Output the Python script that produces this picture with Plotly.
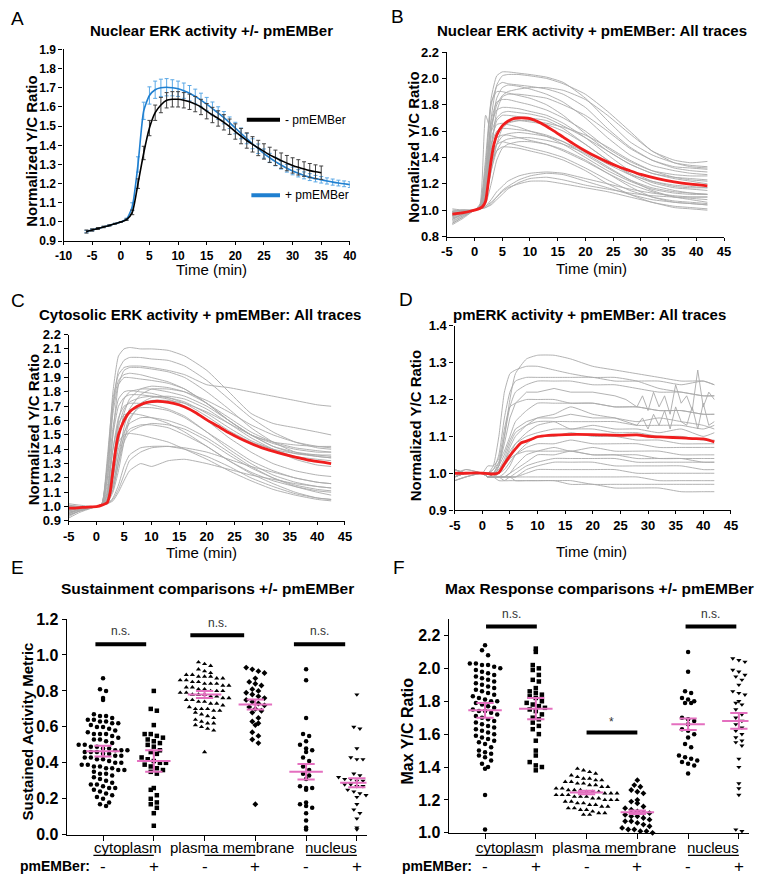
import plotly.graph_objects as go
import numpy as np

# ---------------- DATA ----------------
# Panel A: mean traces with SEM
a_time_minus = list(range(-6, 36))
a_minus = [0.950, 0.958, 0.966, 0.974, 0.982, 0.991, 1.000, 1.012, 1.050, 1.200, 1.360, 1.490,
           1.570, 1.610, 1.635, 1.640, 1.640, 1.635, 1.627, 1.615, 1.600, 1.578, 1.558, 1.540,
           1.520, 1.497, 1.472, 1.448, 1.425, 1.405, 1.386, 1.368, 1.350, 1.335, 1.320, 1.307,
           1.295, 1.285, 1.276, 1.268, 1.262, 1.257]
a_minus_err = [0.008, 0.006, 0.005, 0.004, 0.003, 0.002, 0.0, 0.004, 0.012, 0.025, 0.035, 0.04,
               0.04, 0.04, 0.04, 0.04, 0.04, 0.04, 0.04, 0.04, 0.04, 0.04, 0.04, 0.04,
               0.04, 0.04, 0.04, 0.04, 0.04, 0.04, 0.04, 0.04, 0.04, 0.04, 0.04, 0.04,
               0.04, 0.04, 0.038, 0.037, 0.036, 0.035]
a_time_plus = list(range(-6, 41))
a_plus = [0.950, 0.958, 0.966, 0.974, 0.982, 0.991, 1.000, 1.015, 1.080, 1.300, 1.580, 1.660,
          1.690, 1.700, 1.703, 1.700, 1.695, 1.685, 1.672, 1.655, 1.636, 1.615, 1.592, 1.568,
          1.544, 1.518, 1.490, 1.462, 1.435, 1.408, 1.382, 1.357, 1.335, 1.315, 1.297, 1.280,
          1.266, 1.254, 1.243, 1.234, 1.226, 1.220, 1.214, 1.208, 1.203, 1.199, 1.195]
a_plus_err = [0.006, 0.005, 0.004, 0.003, 0.003, 0.002, 0.0, 0.005, 0.02, 0.04, 0.045, 0.045,
              0.045, 0.045, 0.045, 0.042, 0.04, 0.04, 0.04, 0.038, 0.036, 0.035, 0.034, 0.033,
              0.032, 0.03, 0.03, 0.028, 0.027, 0.026, 0.025, 0.024, 0.023, 0.022, 0.021, 0.02,
              0.02, 0.019, 0.018, 0.018, 0.017, 0.017, 0.016, 0.016, 0.015, 0.015, 0.015]

# Panel B: nuclear ERK, all traces
b_time = [-4, -2, 0, 1, 2, 3, 4, 5, 6, 8, 10, 13, 16, 20, 24, 28, 32, 36, 39, 42]
b_traces = [
    [0.98, 0.99, 1.0, 1.02, 1.3, 1.85, 2.02, 2.05, 2.05, 2.04, 2.03, 2.01, 1.97, 1.85, 1.68, 1.52, 1.42, 1.36, 1.34, 1.33],
    [0.95, 0.98, 1.0, 1.02, 1.2, 1.7, 1.95, 2.02, 2.03, 2.03, 2.02, 2.0, 1.96, 1.88, 1.75, 1.6, 1.45, 1.38, 1.36, 1.37],
    [1.0, 1.0, 1.0, 1.03, 1.35, 1.8, 1.94, 1.97, 1.96, 1.95, 1.94, 1.92, 1.88, 1.78, 1.62, 1.48, 1.38, 1.32, 1.3, 1.29],
    [0.92, 0.96, 1.0, 1.02, 1.15, 1.6, 1.85, 1.93, 1.95, 1.94, 1.92, 1.88, 1.82, 1.7, 1.55, 1.42, 1.34, 1.3, 1.28, 1.27],
    [0.97, 0.99, 1.0, 1.04, 1.4, 1.82, 1.9, 1.9, 1.89, 1.87, 1.85, 1.8, 1.72, 1.58, 1.45, 1.35, 1.28, 1.25, 1.24, 1.23],
    [0.9, 0.95, 1.0, 1.02, 1.1, 1.45, 1.75, 1.86, 1.88, 1.88, 1.87, 1.85, 1.8, 1.72, 1.6, 1.47, 1.38, 1.33, 1.32, 1.31],
    [0.99, 1.0, 1.0, 1.02, 1.25, 1.68, 1.82, 1.84, 1.84, 1.82, 1.8, 1.76, 1.7, 1.6, 1.47, 1.37, 1.3, 1.27, 1.26, 1.26],
    [0.94, 0.97, 1.0, 1.03, 1.3, 1.65, 1.76, 1.78, 1.78, 1.77, 1.75, 1.72, 1.66, 1.55, 1.42, 1.3, 1.22, 1.18, 1.17, 1.17],
    [1.01, 1.0, 1.0, 1.05, 1.72, 1.6, 1.7, 1.74, 1.75, 1.74, 1.73, 1.7, 1.64, 1.55, 1.45, 1.35, 1.28, 1.24, 1.22, 1.2],
    [0.96, 0.98, 1.0, 1.02, 1.15, 1.5, 1.68, 1.72, 1.72, 1.71, 1.7, 1.68, 1.62, 1.5, 1.38, 1.28, 1.21, 1.17, 1.16, 1.15],
    [0.93, 0.97, 1.0, 1.02, 1.12, 1.4, 1.58, 1.65, 1.67, 1.68, 1.67, 1.65, 1.6, 1.5, 1.38, 1.27, 1.19, 1.15, 1.13, 1.12],
    [0.98, 0.99, 1.0, 1.03, 1.2, 1.5, 1.6, 1.62, 1.62, 1.61, 1.6, 1.57, 1.52, 1.42, 1.32, 1.23, 1.17, 1.14, 1.13, 1.12],
    [0.91, 0.96, 1.0, 1.02, 1.1, 1.35, 1.5, 1.56, 1.58, 1.59, 1.58, 1.56, 1.52, 1.44, 1.35, 1.27, 1.22, 1.19, 1.18, 1.17],
    [0.97, 0.99, 1.0, 1.03, 1.18, 1.45, 1.55, 1.57, 1.57, 1.55, 1.53, 1.5, 1.45, 1.37, 1.28, 1.2, 1.14, 1.1, 1.09, 1.08],
    [0.95, 0.98, 1.0, 1.02, 1.1, 1.3, 1.45, 1.52, 1.54, 1.55, 1.55, 1.53, 1.5, 1.43, 1.33, 1.23, 1.15, 1.1, 1.08, 1.06],
    [0.99, 1.0, 1.0, 1.02, 1.15, 1.4, 1.5, 1.52, 1.51, 1.49, 1.47, 1.44, 1.4, 1.32, 1.23, 1.15, 1.1, 1.07, 1.06, 1.05],
    [0.89, 0.94, 1.0, 1.01, 1.05, 1.2, 1.38, 1.47, 1.5, 1.52, 1.52, 1.5, 1.46, 1.38, 1.28, 1.18, 1.1, 1.06, 1.05, 1.04],
    [0.96, 0.98, 1.0, 1.02, 1.12, 1.35, 1.45, 1.48, 1.48, 1.47, 1.45, 1.42, 1.38, 1.3, 1.2, 1.12, 1.06, 1.03, 1.02, 1.01],
    [0.93, 0.97, 1.0, 1.01, 1.03, 1.08, 1.14, 1.18, 1.22, 1.26, 1.28, 1.29, 1.28, 1.24, 1.2, 1.16, 1.13, 1.11, 1.1, 1.1],
    [0.98, 0.99, 1.0, 1.01, 1.02, 1.05, 1.1, 1.15, 1.18, 1.23, 1.26, 1.28, 1.27, 1.22, 1.17, 1.12, 1.08, 1.06, 1.05, 1.04],
    [0.9, 0.95, 1.0, 1.01, 1.02, 1.04, 1.08, 1.12, 1.16, 1.21, 1.24, 1.25, 1.23, 1.19, 1.16, 1.13, 1.11, 1.1, 1.1, 1.1],
    [0.97, 0.99, 1.0, 1.01, 1.03, 1.06, 1.1, 1.14, 1.17, 1.2, 1.22, 1.22, 1.2, 1.17, 1.14, 1.1, 1.06, 1.02, 1.01, 1.0],
    [0.99, 1.0, 1.0, 1.02, 1.1, 1.3, 1.5, 1.62, 1.66, 1.68, 1.68, 1.66, 1.63, 1.57, 1.48, 1.38, 1.3, 1.25, 1.23, 1.22],
    [0.94, 0.97, 1.0, 1.02, 1.2, 1.6, 1.8, 1.87, 1.9, 1.92, 1.93, 1.93, 1.91, 1.84, 1.72, 1.58, 1.45, 1.36, 1.33, 1.32],
    [0.96, 0.98, 1.0, 1.03, 1.25, 1.55, 1.65, 1.66, 1.65, 1.63, 1.6, 1.56, 1.5, 1.4, 1.3, 1.22, 1.16, 1.13, 1.12, 1.12],
]
b_mean_time = [-4, -3, -2, -1, 0, 1, 1.5, 2, 2.5, 3, 3.5, 4, 5, 6, 7, 8, 9, 10, 12, 14, 16, 18, 20,
               22, 24, 26, 28, 30, 33, 36, 39, 42]
b_mean = [0.97, 0.975, 0.982, 0.99, 1.0, 1.015, 1.03, 1.07, 1.22, 1.38, 1.5, 1.57, 1.64, 1.675,
          1.695, 1.70, 1.70, 1.695, 1.66, 1.61, 1.555, 1.50, 1.45, 1.405, 1.365, 1.33, 1.30,
          1.272, 1.24, 1.215, 1.197, 1.185]

# Panel C: cytosolic ERK, all traces
c_time = [-5, -3, 0, 1, 2, 3, 4, 5, 6, 8, 10, 13, 16, 20, 24, 28, 32, 36, 40, 42.5]
c_traces = [
    [0.97, 0.99, 1.0, 1.02, 1.3, 1.8, 2.05, 2.1, 2.11, 2.1, 2.1, 2.09, 2.05, 1.95, 1.8, 1.65, 1.58, 1.55, 1.52, 1.5],
    [0.95, 0.98, 1.0, 1.01, 1.2, 1.7, 1.95, 2.02, 2.04, 2.04, 2.03, 2.02, 1.98, 1.88, 1.75, 1.62, 1.52, 1.45, 1.41, 1.4],
    [1.02, 1.01, 1.0, 1.02, 1.35, 1.75, 1.92, 1.97, 1.98, 1.98, 1.97, 1.95, 1.92, 1.85, 1.83, 1.8, 1.77, 1.74, 1.71, 1.7],
    [0.94, 0.97, 1.0, 1.01, 1.1, 1.5, 1.85, 1.95, 1.97, 1.97, 1.96, 1.94, 1.9, 1.8, 1.68, 1.55, 1.45, 1.38, 1.35, 1.34],
    [0.98, 0.99, 1.0, 1.02, 1.25, 1.65, 1.85, 1.9, 1.9, 1.89, 1.88, 1.86, 1.82, 1.72, 1.6, 1.5, 1.42, 1.38, 1.36, 1.35],
    [0.96, 0.98, 1.0, 1.01, 1.05, 1.2, 1.45, 1.65, 1.75, 1.82, 1.84, 1.83, 1.8, 1.72, 1.62, 1.52, 1.45, 1.41, 1.39, 1.38],
    [1.01, 1.0, 1.0, 1.01, 1.05, 1.15, 1.35, 1.55, 1.68, 1.78, 1.82, 1.82, 1.8, 1.74, 1.66, 1.57, 1.5, 1.45, 1.42, 1.41],
    [0.93, 0.97, 1.0, 1.01, 1.08, 1.3, 1.6, 1.75, 1.8, 1.82, 1.82, 1.8, 1.77, 1.7, 1.6, 1.5, 1.42, 1.37, 1.35, 1.34],
    [0.97, 0.99, 1.0, 1.01, 1.03, 1.1, 1.25, 1.45, 1.6, 1.72, 1.76, 1.77, 1.75, 1.68, 1.58, 1.48, 1.4, 1.33, 1.29, 1.28],
    [0.99, 1.0, 1.0, 1.02, 1.15, 1.5, 1.7, 1.76, 1.78, 1.78, 1.77, 1.75, 1.7, 1.6, 1.48, 1.38, 1.3, 1.25, 1.22, 1.21],
    [0.95, 0.98, 1.0, 1.01, 1.04, 1.12, 1.3, 1.5, 1.62, 1.7, 1.74, 1.74, 1.72, 1.66, 1.58, 1.5, 1.44, 1.4, 1.38, 1.38],
    [1.0, 1.0, 1.0, 1.01, 1.1, 1.4, 1.62, 1.7, 1.72, 1.72, 1.71, 1.68, 1.63, 1.52, 1.4, 1.3, 1.22, 1.17, 1.14, 1.13],
    [0.94, 0.97, 1.0, 1.01, 1.06, 1.25, 1.5, 1.62, 1.67, 1.69, 1.69, 1.67, 1.62, 1.52, 1.42, 1.32, 1.25, 1.2, 1.17, 1.16],
    [0.98, 0.99, 1.0, 1.02, 1.12, 1.4, 1.58, 1.64, 1.65, 1.64, 1.62, 1.58, 1.52, 1.42, 1.32, 1.24, 1.18, 1.14, 1.11, 1.1],
    [0.96, 0.98, 1.0, 1.01, 1.05, 1.2, 1.4, 1.52, 1.58, 1.62, 1.62, 1.6, 1.56, 1.48, 1.38, 1.28, 1.2, 1.14, 1.1, 1.08],
    [0.92, 0.96, 1.0, 1.01, 1.04, 1.15, 1.35, 1.48, 1.54, 1.57, 1.57, 1.55, 1.5, 1.42, 1.32, 1.23, 1.16, 1.1, 1.06, 1.05],
    [1.01, 1.0, 1.0, 1.01, 1.08, 1.3, 1.45, 1.5, 1.51, 1.5, 1.48, 1.45, 1.4, 1.33, 1.25, 1.18, 1.12, 1.08, 1.05, 1.04],
    [0.97, 0.99, 1.0, 1.01, 1.02, 1.06, 1.15, 1.28, 1.36, 1.41, 1.42, 1.42, 1.4, 1.35, 1.28, 1.2, 1.14, 1.09, 1.06, 1.05],
    [0.95, 0.98, 1.0, 1.01, 1.02, 1.05, 1.12, 1.22, 1.32, 1.38, 1.41, 1.42, 1.41, 1.38, 1.33, 1.28, 1.24, 1.2, 1.17, 1.16],
    [0.99, 1.0, 1.0, 1.01, 1.02, 1.04, 1.1, 1.18, 1.25, 1.3, 1.28, 1.32, 1.33, 1.3, 1.26, 1.22, 1.19, 1.16, 1.14, 1.13],
    [0.96, 0.98, 1.0, 1.02, 1.2, 1.55, 1.75, 1.8, 1.81, 1.8, 1.79, 1.76, 1.72, 1.63, 1.53, 1.45, 1.4, 1.37, 1.36, 1.36],
    [0.98, 0.99, 1.0, 1.01, 1.06, 1.3, 1.55, 1.68, 1.73, 1.76, 1.77, 1.76, 1.73, 1.65, 1.55, 1.46, 1.4, 1.35, 1.33, 1.32],
    [0.94, 0.97, 1.0, 1.01, 1.03, 1.12, 1.3, 1.45, 1.52, 1.56, 1.58, 1.57, 1.54, 1.46, 1.36, 1.27, 1.2, 1.15, 1.12, 1.11],
    [1.0, 1.0, 1.0, 1.02, 1.3, 1.7, 1.88, 1.92, 1.93, 1.92, 1.9, 1.87, 1.82, 1.72, 1.6, 1.5, 1.45, 1.43, 1.42, 1.42],
]
c_mean_time = [-5, -4, -3, -2, -1, 0, 1, 2, 2.5, 3, 3.5, 4, 5, 6, 7, 8, 9, 10, 11, 12, 14, 16, 18,
               20, 22, 24, 26, 28, 30, 33, 36, 39, 42.5]
c_mean = [0.99, 0.99, 0.993, 0.995, 0.998, 1.0, 1.01, 1.03, 1.1, 1.25, 1.4, 1.5, 1.6, 1.66, 1.69,
          1.71, 1.725, 1.732, 1.735, 1.733, 1.72, 1.695, 1.655, 1.605, 1.56, 1.515, 1.475, 1.44,
          1.41, 1.375, 1.345, 1.32, 1.30]

# Panel D: pmERK, all traces
d_time = [-5, -3, 0, 1, 2, 3, 4, 5, 6, 8, 10, 13, 16, 20, 24, 28, 32, 36, 40, 42]
d_traces = [
    [1.0, 1.01, 1.0, 0.99, 0.99, 1.02, 1.1, 1.2, 1.27, 1.31, 1.32, 1.32, 1.31, 1.29, 1.28, 1.27, 1.26, 1.25, 1.25, 1.24],
    [0.99, 1.0, 1.0, 1.0, 1.02, 1.1, 1.22, 1.27, 1.28, 1.29, 1.29, 1.28, 1.27, 1.26, 1.26, 1.25, 1.23, 1.22, 1.21, 1.21],
    [1.01, 1.0, 1.0, 1.0, 1.01, 1.05, 1.15, 1.22, 1.25, 1.26, 1.26, 1.26, 1.26, 1.26, 1.25, 1.25, 1.25, 1.24, 1.25, 1.24],
    [0.98, 0.99, 1.0, 0.99, 1.0, 1.03, 1.1, 1.18, 1.22, 1.24, 1.25, 1.25, 1.25, 1.24, 1.24, 1.23, 1.22, 1.22, 1.21, 1.21],
    [0.99, 1.01, 1.0, 1.0, 1.01, 1.03, 1.06, 1.1, 1.14, 1.17, 1.19, 1.19, 1.19, 1.19, 1.18, 1.18, 1.17, 1.17, 1.16, 1.16],
    [1.0, 1.0, 1.0, 0.99, 0.99, 1.0, 1.03, 1.07, 1.1, 1.13, 1.15, 1.16, 1.18, 1.16, 1.15, 1.14, 1.15, 1.14, 1.13, 1.12],
    [0.99, 1.0, 1.0, 1.0, 0.99, 1.0, 1.02, 1.05, 1.08, 1.11, 1.13, 1.14, 1.14, 1.14, 1.14, 1.13, 1.13, 1.13, 1.12, 1.13],
    [1.0, 1.0, 1.0, 1.0, 1.0, 1.01, 1.03, 1.06, 1.08, 1.1, 1.11, 1.12, 1.12, 1.12, 1.11, 1.11, 1.1, 1.1, 1.09, 1.09],
    [0.98, 0.99, 1.0, 0.99, 0.99, 0.99, 1.0, 1.02, 1.05, 1.08, 1.1, 1.1, 1.11, 1.1, 1.1, 1.09, 1.09, 1.08, 1.08, 1.08],
    [1.01, 1.0, 1.0, 1.0, 1.0, 1.0, 1.01, 1.03, 1.05, 1.07, 1.08, 1.08, 1.09, 1.08, 1.08, 1.08, 1.07, 1.07, 1.07, 1.07],
    [1.0, 1.0, 1.0, 0.99, 0.99, 0.99, 0.99, 1.0, 1.02, 1.05, 1.06, 1.07, 1.06, 1.07, 1.06, 1.06, 1.06, 1.05, 1.05, 1.05],
    [0.99, 1.0, 1.0, 1.0, 0.99, 0.99, 0.99, 1.0, 1.01, 1.03, 1.05, 1.05, 1.06, 1.05, 1.05, 1.05, 1.04, 1.04, 1.04, 1.04],
    [1.0, 1.0, 1.0, 1.0, 0.99, 0.99, 0.99, 0.99, 1.0, 1.02, 1.03, 1.04, 1.04, 1.04, 1.04, 1.03, 1.03, 1.03, 1.03, 1.03],
    [0.98, 0.99, 1.0, 0.99, 0.99, 0.98, 0.98, 0.99, 0.99, 1.01, 1.02, 1.03, 1.03, 1.03, 1.02, 1.02, 1.02, 1.02, 1.01, 1.01],
    [1.01, 1.0, 1.0, 1.0, 0.99, 0.99, 0.99, 0.99, 0.99, 1.0, 1.01, 1.01, 1.01, 1.01, 1.01, 1.0, 1.0, 1.0, 1.0, 1.0],
    [1.0, 1.0, 1.0, 0.99, 0.99, 0.99, 0.99, 0.99, 0.99, 0.99, 0.99, 0.99, 0.99, 0.99, 0.99, 0.99, 0.98, 0.98, 0.98, 0.98],
    [0.99, 1.0, 1.0, 0.99, 0.99, 0.99, 0.98, 0.98, 0.98, 0.98, 0.98, 0.98, 0.98, 0.97, 0.97, 0.97, 0.97, 0.97, 0.97, 0.97],
    [1.0, 1.0, 1.0, 0.99, 0.99, 0.99, 0.99, 0.99, 0.98, 0.98, 0.98, 0.98, 0.97, 0.97, 0.96, 0.96, 0.96, 0.95, 0.95, 0.95],
    [1.01, 1.0, 1.0, 1.0, 1.0, 1.01, 1.04, 1.08, 1.11, 1.13, 1.14, 1.14, 1.12, 1.13, 1.12, 1.12, 1.11, 1.12, 1.1, 1.11],
    [0.99, 1.0, 1.0, 1.0, 1.0, 1.0, 1.02, 1.04, 1.05, 1.06, 1.06, 1.06, 1.06, 1.05, 1.05, 1.04, 1.04, 1.04, 1.03, 1.03],
    [1.0, 1.0, 1.0, 1.02, 1.02, 1.04, 1.12, 1.18, 1.19, 1.2, 1.2, 1.2, 1.19, 1.19, 1.18, 1.18, 1.17, 1.17, 1.16, 1.16],
]
# jagged traces in panel D (finer sampling, noisy in the second half)
d_noisy_time = [-5, -3, 0, 2, 3, 4, 5, 6, 8, 10, 13, 16, 20, 24, 26, 28, 29, 30, 31, 32, 33, 34, 35, 36,
                37, 38, 39, 40, 41, 42]
d_noisy_traces = [
    [1.0, 1.0, 1.0, 1.0, 1.02, 1.08, 1.15, 1.19, 1.22, 1.22, 1.23, 1.22, 1.22, 1.21, 1.2, 1.18, 1.21, 1.17,
     1.22, 1.18, 1.21, 1.16, 1.24, 1.19, 1.21, 1.17, 1.28, 1.18, 1.22, 1.2],
    [1.01, 1.0, 1.0, 1.0, 1.02, 1.05, 1.09, 1.12, 1.14, 1.15, 1.15, 1.16, 1.15, 1.15, 1.14, 1.13, 1.15, 1.12,
     1.16, 1.13, 1.17, 1.12, 1.18, 1.14, 1.13, 1.18, 1.12, 1.19, 1.13, 1.14],
]
d_mean_time = [-5, -3, -1, 0, 1, 2, 3, 4, 5, 6, 7, 8, 9, 10, 12, 15, 20, 25, 28, 30, 33, 36, 38, 40, 41, 42]
d_mean = [1.0, 1.0, 1.001, 1.0, 0.999, 0.998, 1.002, 1.025, 1.047, 1.066, 1.082, 1.087, 1.093,
          1.099, 1.103, 1.105, 1.105, 1.103, 1.104, 1.1, 1.098, 1.096, 1.094, 1.093, 1.09, 1.085]

# Panels E/F: groups (cytoplasm -, +, plasma membrane -, +, nucleus -, +)
group_pm = ["-", "+", "-", "+", "-", "+"]
compartments = ["cytoplasm", "plasma membrane", "nucleus"]

e_cyto_minus = [0.87, 0.81, 0.80, 0.76, 0.75, 0.67, 0.66, 0.66, 0.65, 0.64, 0.64, 0.63, 0.63, 0.62, 0.62,
                0.61, 0.60, 0.60, 0.59, 0.58, 0.57, 0.56, 0.56, 0.56, 0.55, 0.54, 0.53, 0.53, 0.52, 0.51,
                0.50, 0.50, 0.49, 0.49, 0.48, 0.48, 0.47, 0.47, 0.47, 0.46, 0.46, 0.46, 0.45, 0.45, 0.44,
                0.44, 0.43, 0.43, 0.42, 0.42, 0.41, 0.40, 0.40, 0.39, 0.39, 0.38, 0.38, 0.37, 0.37, 0.36,
                0.36, 0.35, 0.34, 0.34, 0.33, 0.32, 0.31, 0.30, 0.29, 0.28, 0.28, 0.27, 0.26, 0.26, 0.25,
                0.24, 0.23, 0.22, 0.21, 0.20, 0.18, 0.17, 0.16]
e_cyto_plus = [0.80, 0.70, 0.69, 0.61, 0.56, 0.56, 0.55, 0.54, 0.53, 0.52, 0.51, 0.50, 0.49, 0.47, 0.46,
               0.45, 0.43, 0.42, 0.41, 0.40, 0.40, 0.39, 0.38, 0.37, 0.36, 0.35, 0.34, 0.26, 0.25, 0.22,
               0.20, 0.18, 0.17, 0.15, 0.12, 0.05]
e_pm_minus = [0.96, 0.95, 0.94, 0.92, 0.91, 0.90, 0.89, 0.89, 0.88, 0.88, 0.88, 0.87, 0.87, 0.86, 0.86,
              0.85, 0.85, 0.84, 0.84, 0.84, 0.83, 0.83, 0.82, 0.82, 0.81, 0.81, 0.80, 0.80, 0.80, 0.79,
              0.79, 0.78, 0.78, 0.78, 0.77, 0.77, 0.76, 0.76, 0.75, 0.75, 0.74, 0.74, 0.73, 0.73, 0.72,
              0.71, 0.70, 0.70, 0.70, 0.69, 0.69, 0.68, 0.67, 0.66, 0.65, 0.64, 0.63, 0.62, 0.62, 0.61,
              0.60, 0.59, 0.58, 0.46]
e_pm_plus = [0.93, 0.92, 0.91, 0.90, 0.87, 0.85, 0.84, 0.83, 0.81, 0.80, 0.79, 0.78, 0.77, 0.76, 0.75,
             0.74, 0.73, 0.72, 0.71, 0.70, 0.69, 0.68, 0.65, 0.63, 0.62, 0.61, 0.57, 0.55, 0.53, 0.51, 0.17]
e_nuc_minus = [0.92, 0.86, 0.65, 0.56, 0.55, 0.52, 0.50, 0.48, 0.47, 0.46, 0.43, 0.41, 0.38, 0.36, 0.34,
               0.33, 0.31, 0.27, 0.26, 0.26, 0.25, 0.18, 0.17, 0.16, 0.15, 0.12, 0.08, 0.04, 0.03]
e_nuc_plus = [0.78, 0.60, 0.59, 0.48, 0.43, 0.42, 0.42, 0.34, 0.33, 0.32, 0.31, 0.31, 0.30, 0.30, 0.29,
              0.29, 0.28, 0.28, 0.27, 0.27, 0.26, 0.25, 0.24, 0.23, 0.22, 0.21, 0.17, 0.14, 0.12, 0.09,
              0.04, 0.03]
e_means = [0.465, 0.41, 0.78, 0.725, 0.35, 0.29]
e_sems = [0.03, 0.06, 0.02, 0.028, 0.043, 0.025]

f_cyto_minus = [2.14, 2.11, 2.08, 2.03, 2.03, 2.02, 2.02, 2.01, 2.0, 1.99, 1.98, 1.97, 1.96, 1.95, 1.94,
                1.93, 1.92, 1.91, 1.9, 1.89, 1.88, 1.87, 1.86, 1.85, 1.84, 1.83, 1.82, 1.81, 1.8, 1.8,
                1.79, 1.78, 1.77, 1.76, 1.75, 1.74, 1.74, 1.73, 1.72, 1.71, 1.7, 1.69, 1.68, 1.67, 1.66,
                1.65, 1.64, 1.63, 1.62, 1.61, 1.6, 1.59, 1.58, 1.57, 1.56, 1.55, 1.54, 1.52, 1.5, 1.49,
                1.48, 1.47, 1.46, 1.44, 1.42, 1.4, 1.39, 1.23, 1.02]
f_cyto_plus = [2.12, 2.1, 2.02, 2.0, 1.99, 1.96, 1.93, 1.92, 1.88, 1.86, 1.85, 1.84, 1.83, 1.82, 1.8,
               1.79, 1.78, 1.77, 1.76, 1.75, 1.74, 1.72, 1.7, 1.69, 1.67, 1.65, 1.63, 1.6, 1.56, 1.5,
               1.47, 1.43, 1.41, 1.4, 1.38]
f_pm_minus = [1.39, 1.38, 1.37, 1.36, 1.35, 1.34, 1.33, 1.33, 1.32, 1.32, 1.31, 1.31, 1.3, 1.3, 1.29,
              1.29, 1.28, 1.28, 1.27, 1.27, 1.26, 1.26, 1.26, 1.25, 1.25, 1.25, 1.24, 1.24, 1.24, 1.23,
              1.23, 1.23, 1.22, 1.22, 1.22, 1.21, 1.21, 1.2, 1.2, 1.2, 1.19, 1.19, 1.18, 1.18, 1.17,
              1.17, 1.16, 1.16, 1.15, 1.15, 1.14, 1.14, 1.13, 1.12, 1.12, 1.11, 1.11]
f_pm_plus = [1.32, 1.29, 1.28, 1.26, 1.25, 1.24, 1.2, 1.19, 1.18, 1.16, 1.15, 1.14, 1.13, 1.12, 1.12,
             1.11, 1.1, 1.1, 1.09, 1.08, 1.07, 1.07, 1.06, 1.05, 1.04, 1.03, 1.02, 1.02, 1.01, 1.01, 1.0]
f_nuc_minus = [2.1, 1.98, 1.86, 1.85, 1.82, 1.81, 1.8, 1.79, 1.79, 1.7, 1.69, 1.68, 1.66, 1.63, 1.62,
               1.6, 1.58, 1.54, 1.52, 1.47, 1.46, 1.45, 1.44, 1.43, 1.42, 1.41, 1.36]
f_nuc_plus = [2.06, 2.05, 2.04, 1.99, 1.98, 1.96, 1.95, 1.93, 1.9, 1.86, 1.85, 1.84, 1.8, 1.79, 1.78,
              1.75, 1.72, 1.7, 1.68, 1.66, 1.64, 1.62, 1.6, 1.58, 1.56, 1.55, 1.53, 1.45, 1.4, 1.3,
              1.27, 1.23, 1.02, 1.01]
f_means = [1.745, 1.755, 1.245, 1.125, 1.66, 1.68]
f_sems = [0.045, 0.065, 0.01, 0.01, 0.035, 0.048]

# ---------------- LAYOUT HELPERS ----------------
W, H = 780, 883
FONT = "Liberation Sans, Arial, sans-serif"


def PX(x):
    return x / W


def PY(y):
    return 1 - y / H


# panel plot areas in pixels: (left, right, top, bottom)
boxes = {
    "A": (55.7, 348, 42.3, 237.7),
    "B": (447, 730, 45, 233),
    "C": (61, 343, 333, 523),
    "D": (455, 737, 324, 512),
    "E": (59, 365, 623, 843),
    "F": (449, 755, 623, 841),
}
axis_ids = {"A": "", "B": "2", "C": "3", "D": "4", "E": "5", "F": "6"}

fig = go.Figure()
GRAY = "#a9a9a9"
RED = "#f01e1e"
PINK = "#e46fbf"


def ax(p):
    i = axis_ids[p]
    return "x" + i, "y" + i


# Panel A
xa, ya = ax("A")
fig.add_trace(go.Scatter(x=a_time_plus, y=a_plus, mode="lines", line=dict(color="#1f7fd0", width=1.6, shape="spline", smoothing=0.6),
                         error_y=dict(type="data", array=a_plus_err, color="#5aa8e6", thickness=1, width=2),
                         xaxis=xa, yaxis=ya, showlegend=False))
fig.add_trace(go.Scatter(x=a_time_minus, y=a_minus, mode="lines", line=dict(color="black", width=1.6, shape="spline", smoothing=0.6),
                         error_y=dict(type="data", array=a_minus_err, color="#404040", thickness=1, width=2),
                         xaxis=xa, yaxis=ya, showlegend=False))

# Panels B, C, D
for p, t, traces, mt, m in [("B", b_time, b_traces, b_mean_time, b_mean),
                             ("C", c_time, c_traces, c_mean_time, c_mean),
                             ("D", d_time, d_traces, d_mean_time, d_mean)]:
    xa, ya = ax(p)
    for tr in traces:
        fig.add_trace(go.Scatter(x=t, y=tr, mode="lines", line=dict(color=GRAY, width=0.9, shape="spline", smoothing=0.5),
                                 xaxis=xa, yaxis=ya, showlegend=False, hoverinfo="skip"))
    if p == "D":
        for tr in d_noisy_traces:
            fig.add_trace(go.Scatter(x=d_noisy_time, y=tr, mode="lines", line=dict(color=GRAY, width=0.9),
                                     xaxis=xa, yaxis=ya, showlegend=False, hoverinfo="skip"))
    fig.add_trace(go.Scatter(x=mt, y=m, mode="lines", line=dict(color=RED, width=2.8, shape="spline", smoothing=0.6),
                             xaxis=xa, yaxis=ya, showlegend=False))


# beeswarm helper
def swarm(vals, center, binh, dx):
    v = np.array(sorted(vals, reverse=True), dtype=float)
    bins = np.floor(v / binh + 1e-9)
    xs = np.zeros_like(v)
    for b in np.unique(bins):
        idx = np.where(bins == b)[0]
        k = len(idx)
        offs = (np.arange(k) - (k - 1) / 2.0) * dx
        xs[idx] = center + offs
    return xs, v


symbols = ["circle", "square", "triangle-up", "diamond", "circle", "triangle-down"]
for p, groups, means, sems, binh in [("E", [e_cyto_minus, e_cyto_plus, e_pm_minus, e_pm_plus, e_nuc_minus, e_nuc_plus], e_means, e_sems, 0.036),
                                     ("F", [f_cyto_minus, f_cyto_plus, f_pm_minus, f_pm_plus, f_nuc_minus, f_nuc_plus], f_means, f_sems, 0.04)]:
    xa, ya = ax(p)
    for i, g in enumerate(groups):
        xs, ys = swarm(g, i, binh, 0.12)
        fig.add_trace(go.Scatter(x=xs, y=ys, mode="markers",
                                 marker=dict(symbol=symbols[i], size=4.5, color="black", line=dict(width=0)),
                                 xaxis=xa, yaxis=ya, showlegend=False, cliponaxis=False))
    lx, lyv = [], []
    for i, (mn, se) in enumerate(zip(means, sems)):
        lx += [i - 0.33, i + 0.33, None, i, i, None, i - 0.17, i + 0.17, None, i - 0.17, i + 0.17, None]
        lyv += [mn, mn, None, mn - se, mn + se, None, mn + se, mn + se, None, mn - se, mn - se, None]
    fig.add_trace(go.Scatter(x=lx, y=lyv, mode="lines", line=dict(color=PINK, width=2),
                             xaxis=xa, yaxis=ya, showlegend=False, cliponaxis=False))

# significance bars (x0, x1, y value, label, label pixel row)
sig_E = [(-0.15, 0.85, 1.06, "n.s.", 635), (1.72, 2.78, 1.11, "n.s.", 627), (3.76, 4.77, 1.06, "n.s.", 635)]
sig_F = [(0.02, 1.02, 2.255, "n.s.", 618), (2.0, 3.0, 1.61, "*", 728), (3.95, 4.95, 2.255, "n.s.", 618)]
annotations = []
for p, sigs in [("E", sig_E), ("F", sig_F)]:
    xa, ya = ax(p)
    bx, by = [], []
    for x0, x1, yv, lab, lrow in sigs:
        bx += [x0, x1, None]
        by += [yv, yv, None]
        annotations.append(dict(x=(x0 + x1) / 2, y=PY(lrow), xref=xa, yref="paper", text=lab, showarrow=False,
                                yanchor="middle", font=dict(family=FONT, size=12, color="#333333")))
    fig.add_trace(go.Scatter(x=bx, y=by, mode="lines", line=dict(color="black", width=4),
                             xaxis=xa, yaxis=ya, showlegend=False, cliponaxis=False))

# ---------------- AXES ----------------
def axis_style(tsize):
    return dict(showline=True, linecolor="black", linewidth=1.4, ticks="outside", ticklen=4, tickwidth=1.3,
                tickcolor="black", showgrid=False, zeroline=False,
                tickfont=dict(family=FONT, size=tsize, color="black"))


ranges = {
    "A": ([-10, 40], list(range(-10, 41, 5)), [0.9, 1.9], [round(0.9 + 0.1 * k, 1) for k in range(11)], 12),
    "B": ([-5, 45], list(range(-5, 46, 5)), [0.8, 2.2], [round(0.8 + 0.2 * k, 1) for k in range(8)], 13),
    "C": ([-5, 45], list(range(-5, 46, 5)), [0.9, 2.2], [round(0.9 + 0.1 * k, 1) for k in range(14)], 13),
    "D": ([-5, 45], list(range(-5, 46, 5)), [0.9, 1.4], [round(0.9 + 0.1 * k, 1) for k in range(6)], 13),
    "E": ([-0.714, 5.19], [0, 1, 2, 3, 4, 5], [0.0, 1.2], [round(0.2 * k, 1) for k in range(7)], 16),
    "F": ([-0.714, 5.19], [0, 1, 2, 3, 4, 5], [1.0, 2.3], [round(1.0 + 0.2 * k, 1) for k in range(7)], 16),
}
layout_axes = {}
for p, (l, r, t, b) in boxes.items():
    i = axis_ids[p]
    xr, xt, yr, yt, ts = ranges[p]
    xs = axis_style(ts)
    ys = axis_style(ts)
    xs.update(domain=[PX(l), PX(r)], range=[xr[0] - 1e-6, xr[1] + 1e-6], tickvals=xt,
              ticktext=["<b>%g</b>" % v for v in xt], anchor="y" + i, ticklen=3)
    if p in ("E", "F"):
        xs.update(showticklabels=False, ticklen=5)
    ys.update(domain=[PY(b), PY(t)], range=[yr[0] - 1e-6, yr[1] + 1e-6], tickvals=yt,
              ticktext=["<b>%.1f</b>" % v for v in yt], anchor="x" + i)
    layout_axes["xaxis" + i] = xs
    layout_axes["yaxis" + i] = ys


def ann(text, x, y, size, bold=False, angle=0, xanchor="center", color="black"):
    annotations.append(dict(x=PX(x), y=PY(y), xref="paper", yref="paper",
                            text=("<b>%s</b>" % text) if bold else text, showarrow=False,
                            textangle=angle, xanchor=xanchor, yanchor="middle",
                            font=dict(family=FONT, size=size, color=color)))


# panel letters
for lab, x, y in [("A", 9, 11), ("B", 397, 9), ("C", 9, 298), ("D", 405, 297), ("E", 9, 570), ("F", 398, 570)]:
    ann(lab, x, y, 19)

# titles
ann("Nuclear ERK activity +/- pmEMBer", 207, 23, 15, bold=True)
ann("Nuclear ERK activity + pmEMBer: All traces", 595, 23, 15, bold=True)
ann("Cytosolic ERK activity + pmEMBer: All traces", 195, 313, 15, bold=True)
ann("pmERK activity + pmEMBer: All traces", 593, 313, 15, bold=True)
ann("Sustainment comparisons +/- pmEMBer", 203, 592, 15.5, bold=True)
ann("Max Response comparisons +/- pmEMBer", 603, 592, 15.5, bold=True)

# y axis titles
ann("Normalized Y/C Ratio", 23, 146, 15, bold=True, angle=-90)
ann("Normalized Y/C Ratio", 413, 142, 15, bold=True, angle=-90)
ann("Normalized Y/C Ratio", 25, 430, 15, bold=True, angle=-90)
ann("Normalized Y/C Ratio", 415, 426, 15, bold=True, angle=-90)
ann("Sustained Activity Metric", 19, 738, 15, bold=True, angle=-90)
ann("Max Y/C Ratio", 407, 737, 16, bold=True, angle=-90)

# x axis titles
ann("Time (min)", 207, 267, 15)
ann("Time (min)", 595, 266, 15)
ann("Time (min)", 197, 555, 15)
ann("Time (min)", 595, 554, 15)

# panel A legend
shapes = []
shapes.append(dict(type="line", xref="x", yref="y", x0=22.0, x1=27.8, y0=1.533, y1=1.533, line=dict(color="black", width=4)))
shapes.append(dict(type="line", xref="x", yref="y", x0=22.8, x1=27.8, y0=1.139, y1=1.139, line=dict(color="#1f7fd0", width=4)))
annotations.append(dict(x=28.3, y=1.533, xref="x", yref="y", text="- pmEMBer", showarrow=False, xanchor="left",
                        font=dict(family=FONT, size=12, color="black")))
annotations.append(dict(x=28.3, y=1.139, xref="x", yref="y", text="+ pmEMBer", showarrow=False, xanchor="left",
                        font=dict(family=FONT, size=12, color="black")))

# category labels for E and F
for p in ("E", "F"):
    xa, _ = ax(p)
    for name, cx, ux0, ux1 in zip(compartments, [0.5, 2.55, 4.5], [-0.19, 2.0, 4.0], [1.0, 3.0, 5.0]):
        annotations.append(dict(x=cx, y=PY(856), xref=xa, yref="paper", text=name, showarrow=False,
                                yanchor="middle", font=dict(family=FONT, size=15, color="black")))
        shapes.append(dict(type="line", xref=xa, yref="paper", x0=ux0, x1=ux1,
                           y0=PY(864), y1=PY(864), line=dict(color="black", width=1.2)))
    for i, s in enumerate(group_pm):
        annotations.append(dict(x=i, y=PY(875), xref=xa, yref="paper", text=s, showarrow=False,
                                yanchor="middle", font=dict(family=FONT, size=17, color="black")))
ann("pmEMBer:", 47, 875, 14, bold=True)
ann("pmEMBer:", 437, 875, 14, bold=True)

fig.update_layout(width=W, height=H, margin=dict(l=0, r=0, t=0, b=0), paper_bgcolor="white",
                  plot_bgcolor="white", showlegend=False, annotations=annotations, shapes=shapes,
                  font=dict(family=FONT, color="black"), **layout_axes)

fig.write_html("out.html", config={"displayModeBar": False},
               post_script="document.body.style.margin='0px';document.body.style.padding='0px';")
